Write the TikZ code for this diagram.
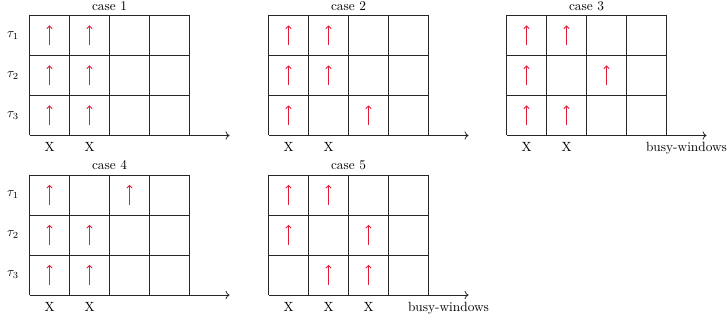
\documentclass[tikz,border=0pt]{standalone}
\usetikzlibrary{arrows.meta}
\definecolor{arrred}{RGB}{228,28,60}
\newcommand\drawcase[5]{%
% #1 x, #2 y, #3 name, #4 title, #5 list of col/row arrows
\begin{scope}[shift={(#1,#2)}]
  \foreach \i in {0,...,4} \draw[gridline] (\i*40,0) -- (\i*40,120);
  \foreach \j in {0,1,2} \draw[gridline] (0,\j*40) -- (160,\j*40);
  \coordinate (#3o) at (0,120);
  \coordinate (#3e) at (200,120);
  \draw[gridline,->] (#3o) -- (#3e);
  \node[lbl] (#3title) at (80,-5) {#4};
  \foreach \c/\r in {#5} {
    \coordinate (#3a\c\r) at (\c*40-20,\r*40-10);
    \coordinate (#3b\c\r) at (\c*40-20,\r*40-30);
    \draw[job] (#3a\c\r) -- (#3b\c\r);
  }
\end{scope}}
\begin{document}
\begin{tikzpicture}[x=0.75pt,y=-0.75pt,
  gridline/.style={line width=0.6pt,draw=black!85},
  job/.style={draw=arrred,line width=0.7pt,-{To[length=2.6pt,width=4.4pt]}},
  lbl/.style={anchor=base,inner sep=0pt,font=\normalsize},
  rowlbl/.style={inner sep=0pt,font=\normalsize}]
\useasboundingbox (0,0) rectangle (727,320);

\drawcase{29.5}{15.5}{c1}{case 1}{1/1,2/1,1/2,2/2,1/3,2/3}
\drawcase{268.5}{15.5}{c2}{case 2}{1/1,2/1,1/2,2/2,1/3,3/3}
\drawcase{506.5}{15.5}{c3}{case 3}{1/1,2/1,1/2,3/2,1/3,2/3}
\drawcase{29.5}{175}{c4}{case 4}{1/1,3/1,1/2,2/2,1/3,2/3}
\drawcase{268.5}{175}{c5}{case 5}{1/1,2/1,1/2,3/2,2/3,3/3}

% row labels
\node[rowlbl] (r11) at (13,35.5) {$\tau_1$};
\node[rowlbl] (r12) at (13,75.5) {$\tau_2$};
\node[rowlbl] (r13) at (13,115.5) {$\tau_3$};
\node[rowlbl] (r41) at (13,195) {$\tau_1$};
\node[rowlbl] (r42) at (13,235) {$\tau_2$};
\node[rowlbl] (r43) at (13,275) {$\tau_3$};

% X labels
\node[lbl] (x11) at (49.5,151.5) {X};
\node[lbl] (x12) at (89.5,151.5) {X};
\node[lbl] (x21) at (288.5,151.5) {X};
\node[lbl] (x22) at (328.5,151.5) {X};
\node[lbl] (x31) at (526.5,151.5) {X};
\node[lbl] (x32) at (566.5,151.5) {X};
\node[lbl] (bw3) at (686.5,151.5) {busy-windows};
\node[lbl] (x41) at (49.5,311) {X};
\node[lbl] (x42) at (89.5,311) {X};
\node[lbl] (x51) at (288.5,311) {X};
\node[lbl] (x52) at (328.5,311) {X};
\node[lbl] (x53) at (368.5,311) {X};
\node[lbl] (bw5) at (448.5,311) {busy-windows};
\end{tikzpicture}
\end{document}
